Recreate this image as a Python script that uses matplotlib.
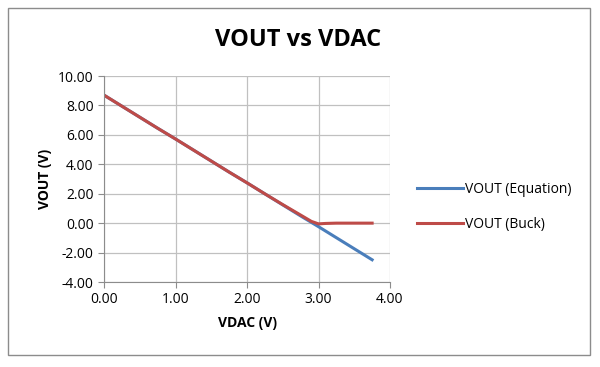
import matplotlib
matplotlib.use("Agg")
import matplotlib.pyplot as plt
from matplotlib.patches import Rectangle

vdac_eq = [0.00, 0.25, 0.50, 0.75, 1.00, 1.25, 1.50, 1.75, 2.00, 2.25, 2.50, 2.75, 3.00, 3.25, 3.50, 3.75]
vout_eq = [8.70, 7.95, 7.20, 6.45, 5.72, 4.97, 4.22, 3.47, 2.74, 1.99, 1.24, 0.49, -0.24, -0.99, -1.74, -2.49]

vdac_buck = [0.00, 0.25, 0.50, 0.75, 1.00, 1.25, 1.50, 1.75, 2.00, 2.25, 2.50, 2.75, 2.90, 3.00, 3.10, 3.25, 3.50, 3.75]
vout_buck = [8.70, 7.95, 7.20, 6.45, 5.72, 4.97, 4.22, 3.47, 2.74, 1.99, 1.26, 0.55, 0.12, -0.05, -0.02, 0.00, 0.00, 0.00]

xticks = [0, 1, 2, 3, 4]
yticks = [-4, -2, 0, 2, 4, 6, 8, 10]

plt.rcParams['font.family'] = ['Open Sans', 'DejaVu Sans']

fig = plt.figure(figsize=(6.0, 3.67), dpi=100)
fig.patches.append(Rectangle((8/600, 1 - 355/367), 582/600, 347/367, transform=fig.transFigure,
                             fill=False, edgecolor='#8c8c8c', linewidth=1.0))

ax = fig.add_axes([104/600, 1 - 282/367, 286/600, 206/367])
ax.plot(vdac_eq, vout_eq, color='#4a7ebb', linewidth=2.2, label='VOUT (Equation)')
ax.plot(vdac_buck, vout_buck, color='#be4b48', linewidth=2.2, label='VOUT (Buck)')

ax.set_xlim(0, 4)
ax.set_ylim(-4, 10)
ax.set_xticks(xticks)
ax.set_yticks(yticks)
ax.set_xticklabels([f"{v:.2f}" for v in xticks], fontsize=10)
ax.set_yticklabels([f"{v:.2f}" for v in yticks], fontsize=10)
ax.grid(True, color='#c0c0c0', linewidth=0.9)
ax.set_axisbelow(True)
for s in ['top', 'right']:
    ax.spines[s].set_visible(False)
for s in ['left', 'bottom']:
    ax.spines[s].set_color('#8c8c8c')
ax.tick_params(axis='both', colors='#8c8c8c', labelcolor='black', length=4, direction='out')

ax.set_xlabel('VDAC (V)', fontsize=10, fontweight='bold', labelpad=6)
ax.set_ylabel('VOUT (V)', fontsize=10, fontweight='bold', labelpad=4)

fig.text(298/600, 1 - 40/367, 'VOUT vs VDAC', ha='center', va='center', fontsize=17, fontweight='bold')

ax.legend(loc='center left', bbox_to_anchor=(1.05, 0.365), frameon=False, fontsize=10,
          handlelength=3.3, handletextpad=0.15, labelspacing=1.4)

fig.savefig('out.png', dpi=100)
